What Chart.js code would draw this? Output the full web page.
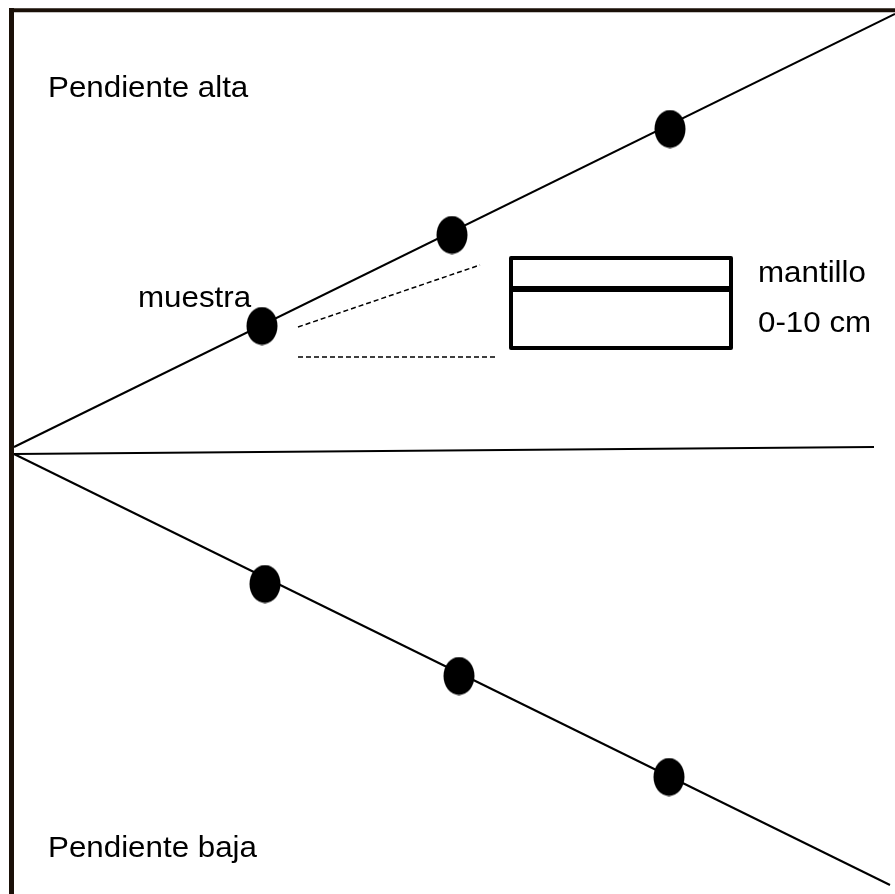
<!DOCTYPE html>
<html>
<head>
<meta charset="utf-8">
<script src="https://cdn.jsdelivr.net/npm/chart.js@4/dist/chart.umd.min.js"></script>
<style>
  html, body { margin: 0; padding: 0; background: #ffffff; }
  #wrap { width: 895px; height: 894px; position: relative; }
</style>
</head>
<body>
<div id="wrap"><canvas id="c"></canvas></div>
<script>
// Diagram geometry (units of the drawing plane, 0..895 x 0..894, y downward)
const frameTop = [{x: 9, y: 10.3}, {x: 895, y: 10.3}];
const frameLeft = [{x: 11.5, y: 8}, {x: 11.5, y: 894}];
const slopeHigh = [{x: 14, y: 447}, {x: 895, y: 14}];
const slopeFlat = [{x: 14, y: 454}, {x: 874, y: 447}];
const slopeLow = [{x: 14, y: 454}, {x: 890, y: 885}];
const samplesHigh = [{x: 262, y: 326}, {x: 452, y: 235}, {x: 670, y: 129}];
const samplesLow = [{x: 265, y: 584}, {x: 459, y: 676}, {x: 669, y: 777}];
const leaderUpper = [{x: 298, y: 327}, {x: 480, y: 265}];
const leaderLower = [{x: 298, y: 357}, {x: 497, y: 357}];
const profileBox = [{x: 620, y: 258}, {x: 731, y: 258}, {x: 731, y: 348}, {x: 511, y: 348}, {x: 511, y: 258}, {x: 620, y: 258}];
const profileDivider = [{x: 511, y: 289}, {x: 731, y: 289}];

// Text labels
const labelTexts = ['Pendiente alta', 'muestra', 'mantillo', '0-10 cm', 'Pendiente baja'];
const labelAnchors = [{x: 48, y: 97}, {x: 138, y: 307}, {x: 758, y: 282}, {x: 758, y: 332}, {x: 48, y: 857}];

// Ellipse marker image
function ellipseMarker(w, h) {
  const cv = document.createElement('canvas');
  cv.width = w; cv.height = h;
  const g = cv.getContext('2d');
  g.fillStyle = '#000000';
  g.beginPath();
  g.ellipse(w / 2, h / 2, w / 2 - 0.5, h / 2 - 0.5, 0, 0, Math.PI * 2);
  g.fill();
  return cv;
}
const dot = ellipseMarker(32, 39);

function lineSet(data, width, color, extra) {
  return Object.assign({
    data: data, showLine: true, fill: false, pointRadius: 0, pointHoverRadius: 0,
    borderColor: color, borderWidth: width, clip: false, tension: 0
  }, extra || {});
}

const labelPlugin = {
  id: 'labels',
  afterDatasetsDraw(chart) {
    const ctx = chart.ctx;
    const xs = chart.scales.x, ys = chart.scales.y;
    ctx.save();
    ctx.fillStyle = '#000000';
    ctx.font = '29px "Liberation Sans", Arial, sans-serif';
    ctx.textBaseline = 'alphabetic';
    ctx.textAlign = 'left';
    labelTexts.forEach((t, i) => {
      const a = labelAnchors[i];
      ctx.save();
      ctx.translate(xs.getPixelForValue(a.x), ys.getPixelForValue(a.y));
      ctx.scale(1.08, 1);
      ctx.fillText(t, 0, 0);
      ctx.restore();
    });
    ctx.restore();
  }
};

new Chart(document.getElementById('c'), {
  type: 'scatter',
  data: {
    datasets: [
      lineSet(frameTop, 4, '#1a1008', {borderCapStyle: 'butt'}),
      lineSet(frameLeft, 5, '#1a1008', {borderCapStyle: 'butt'}),
      lineSet(slopeHigh, 2, '#000000'),
      lineSet(slopeFlat, 2, '#000000'),
      lineSet(slopeLow, 2, '#000000'),
      lineSet(leaderUpper, 1.5, '#000000', {borderDash: [5, 3]}),
      lineSet(leaderLower, 1.5, '#000000', {borderDash: [5, 3]}),
      lineSet(profileBox, 4, '#000000', {borderJoinStyle: 'round'}),
      lineSet(profileDivider, 6, '#000000'),
      {data: samplesHigh, showLine: false, pointStyle: dot, pointRadius: 16, clip: false},
      {data: samplesLow, showLine: false, pointStyle: dot, pointRadius: 16, clip: false}
    ]
  },
  options: {
    responsive: true,
    maintainAspectRatio: false,
    animation: false,
    events: [],
    layout: {padding: 0, autoPadding: false},
    plugins: {legend: {display: false}, tooltip: {enabled: false}, title: {display: false}},
    scales: {
      x: {type: 'linear', min: 0, max: 895, display: false},
      y: {type: 'linear', min: 0, max: 894, reverse: true, display: false}
    }
  },
  plugins: [labelPlugin]
});
</script>
</body>
</html>
